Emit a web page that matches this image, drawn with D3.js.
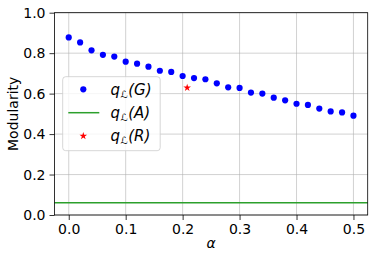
<!DOCTYPE html>
<html>
<head>
<meta charset="utf-8">
<script src="https://cdn.jsdelivr.net/npm/d3@7"></script>
<style>
  body { margin: 0; background: #fff; }
  text { font-family: "DejaVu Sans", sans-serif; fill: #000; }
</style>
</head>
<body>
<div id="chart"></div>
<script>
// data
var alphas = [0.00, 0.02, 0.04, 0.06, 0.08, 0.10, 0.12, 0.14, 0.16, 0.18, 0.20, 0.22, 0.24,
              0.26, 0.28, 0.30, 0.32, 0.34, 0.36, 0.38, 0.40, 0.42, 0.44, 0.46, 0.48, 0.50];
var qG = [0.878, 0.853, 0.814, 0.792, 0.783, 0.758, 0.748, 0.733, 0.713, 0.707, 0.687, 0.677, 0.671,
          0.651, 0.631, 0.628, 0.605, 0.600, 0.580, 0.567, 0.550, 0.544, 0.526, 0.512, 0.507, 0.491];
var qA = 0.061;
var qR = [{alpha: 0.208, q: 0.629}];
var xTicks = [0.0, 0.1, 0.2, 0.3, 0.4, 0.5];
var yTicks = [0.0, 0.2, 0.4, 0.6, 0.8, 1.0];
var legendLabels = ["G", "A", "R"];

var W = 374, H = 261;
var margin = {top: 12.7, right: 6.3, bottom: 46, left: 54.5};
var w = W - margin.left - margin.right;
var h = H - margin.top - margin.bottom;

var x = d3.scaleLinear().domain([-0.025, 0.525]).range([0, w]);
var y = d3.scaleLinear().domain([0, 1]).range([h, 0]);

var svg = d3.select("#chart").append("svg")
  .attr("width", W).attr("height", H);

var g = svg.append("g")
  .attr("transform", "translate(" + margin.left + "," + margin.top + ")");

// grid
g.append("g").selectAll("line").data(xTicks).enter().append("line")
  .attr("x1", function(d){ return x(d); }).attr("x2", function(d){ return x(d); })
  .attr("y1", 0).attr("y2", h)
  .attr("stroke", "#b0b0b0").attr("stroke-width", 0.8).attr("opacity", 0.7);
g.append("g").selectAll("line").data(yTicks).enter().append("line")
  .attr("y1", function(d){ return y(d); }).attr("y2", function(d){ return y(d); })
  .attr("x1", 0).attr("x2", w)
  .attr("stroke", "#b0b0b0").attr("stroke-width", 0.8).attr("opacity", 0.7);

// green horizontal line
g.append("line")
  .attr("x1", 0).attr("x2", w)
  .attr("y1", y(qA)).attr("y2", y(qA))
  .attr("stroke", "#2ca02c").attr("stroke-width", 1.5);

// blue points
g.selectAll("circle.g").data(alphas).enter().append("circle")
  .attr("class", "g")
  .attr("cx", function(d){ return x(d); })
  .attr("cy", function(d, i){ return y(qG[i]); })
  .attr("r", 3.1)
  .attr("fill", "#0000ff");

var star = d3.symbol().type(d3.symbolStar).size(18);
g.selectAll("path.r").data(qR).enter().append("path")
  .attr("class", "r")
  .attr("d", star)
  .attr("transform", function(d){ return "translate(" + x(d.alpha) + "," + y(d.q) + ")"; })
  .attr("fill", "#ff0000");

// axes
var xAxis = d3.axisBottom(x).tickValues(xTicks).tickFormat(d3.format(".1f")).tickSize(5).tickPadding(4);
var yAxis = d3.axisLeft(y).tickValues(yTicks).tickFormat(d3.format(".1f")).tickSize(5).tickPadding(4);

var gx = g.append("g").attr("transform", "translate(0," + h + ")").call(xAxis);
var gy = g.append("g").call(yAxis);
[gx, gy].forEach(function(a){
  a.select(".domain").remove();
  a.selectAll("line").attr("stroke", "#000").attr("stroke-width", 0.8);
  a.selectAll("text").style("font-family", "DejaVu Sans").style("font-size", "14px").attr("fill", "#000");
});

// frame
g.append("rect").attr("x", 0).attr("y", 0).attr("width", w).attr("height", h)
  .attr("fill", "none").attr("stroke", "#000").attr("stroke-width", 0.8);

// axis labels
svg.append("text")
  .attr("x", margin.left + x(0.25)).attr("y", 248)
  .attr("text-anchor", "middle")
  .style("font-size", "14px").style("font-style", "italic")
  .text("α");
svg.append("text")
  .attr("transform", "translate(18," + (margin.top + h / 2) + ") rotate(-90)")
  .attr("text-anchor", "middle")
  .style("font-size", "14px")
  .text("Modularity");

// legend
var lg = svg.append("g").attr("transform", "translate(62.7,76.7)");
lg.append("rect").attr("width", 97.5).attr("height", 74).attr("rx", 3)
  .attr("fill", "#fff").attr("fill-opacity", 0.8)
  .attr("stroke", "#cccccc").attr("stroke-width", 0.8);
var rows = [12.6, 36, 59.3];
lg.append("circle").attr("cx", 20.6).attr("cy", rows[0]).attr("r", 3.1).attr("fill", "#0000ff");
lg.append("line").attr("x1", 5.6).attr("x2", 36.6).attr("y1", rows[1]).attr("y2", rows[1])
  .attr("stroke", "#2ca02c").attr("stroke-width", 1.5);
lg.append("path").attr("d", star).attr("transform", "translate(20.6," + rows[2] + ")").attr("fill", "#ff0000");

legendLabels.forEach(function(lbl, i){
  var t = lg.append("text").attr("x", 47.8).attr("y", rows[i] + 5.5)
    .style("font-size", "15px").style("font-style", "italic");
  t.append("tspan").text("q");
  t.append("tspan").attr("dy", 3).attr("dx", 0.5).style("font-size", "10px").text("ℒ");
  t.append("tspan").attr("dy", -3).attr("dx", 0.5).text("(" + lbl + ")");
});
</script>
</body>
</html>
